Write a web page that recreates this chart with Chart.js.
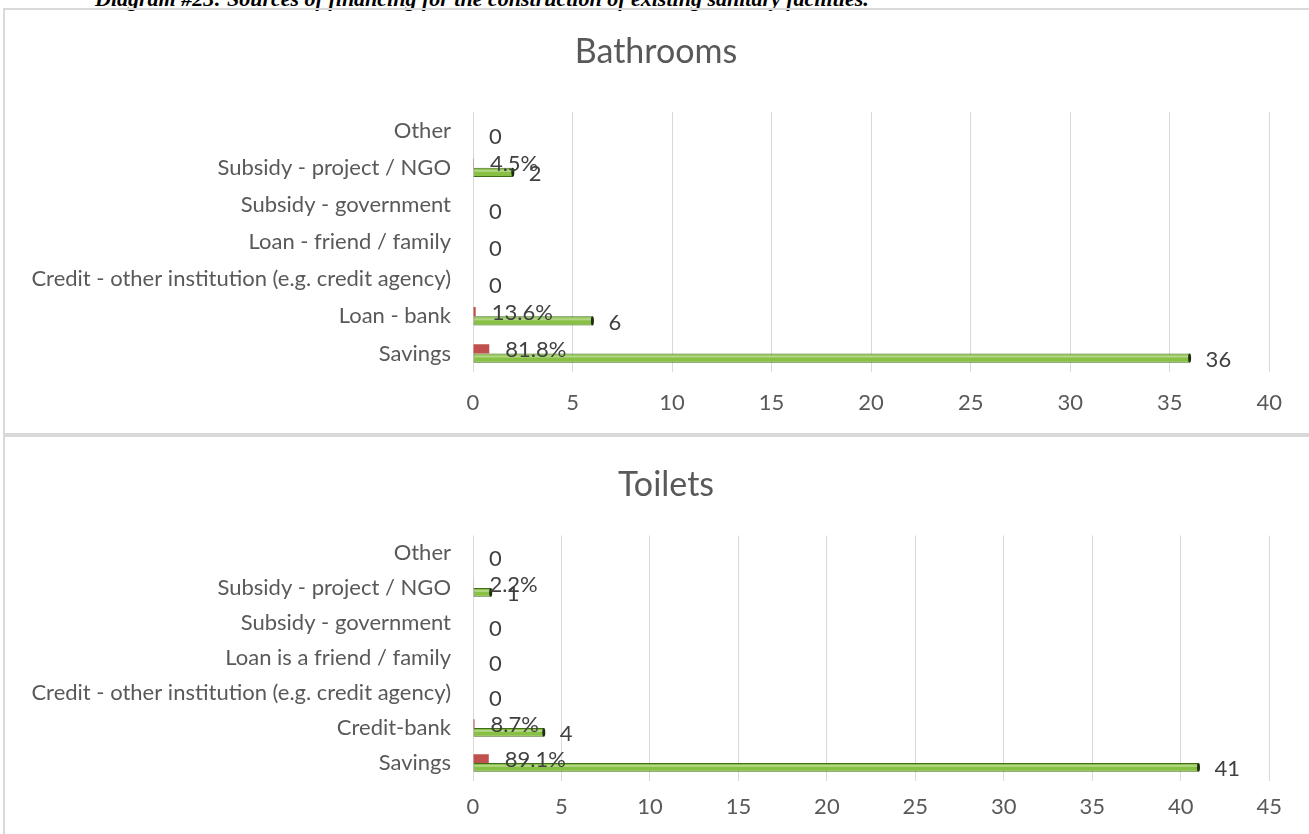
<!DOCTYPE html>
<html>
<head>
<meta charset="utf-8">
<script src="https://cdn.jsdelivr.net/npm/chart.js@4/dist/chart.umd.min.js"></script>
<style>
  html, body { margin: 0; padding: 0; background: #fff; overflow: hidden; }
  body { width: 1309px; height: 834px; position: relative; }
  .heading {
    position: absolute; left: 95px; top: -12px; white-space: nowrap;
    font: italic bold 22px "Liberation Serif", "Times New Roman", serif; line-height: 22px; color: #000;
  }
  .panel { position: absolute; left: 3px; width: 1340px; border: 2px solid #d9d9d9; box-sizing: border-box; }
  #panelBath { top: 8px; height: 427px; }
  #panelToilet { top: 435px; height: 420px; }
  canvas { position: absolute; left: 5px; }
  #bathChart { top: 10px; }
  #toiletChart { top: 437px; }
</style>
</head>
<body>
<div class="heading">Diagram #23: Sources of financing for the construction of existing sanitary facilities.</div>
<div class="panel" id="panelBath"></div>
<div class="panel" id="panelToilet"></div>
<canvas id="bathChart" width="1295" height="423"></canvas>
<canvas id="toiletChart" width="1290" height="397"></canvas>
<script>
// Bathrooms: categories listed top to bottom
const bathCategories = ['Other', 'Subsidy - project / NGO', 'Subsidy - government', 'Loan - friend / family',
  'Credit - other institution (e.g. credit agency)', 'Loan - bank', 'Savings'];
const bathCounts = [0, 2, 0, 0, 0, 6, 36];
const bathShares = [0, 0.045, 0, 0, 0, 0.136, 0.818];
const bathMax = 40;

// Toilets
const toiletCategories = ['Other', 'Subsidy - project / NGO', 'Subsidy - government', 'Loan is a friend / family',
  'Credit - other institution (e.g. credit agency)', 'Credit-bank', 'Savings'];
const toiletCounts = [0, 1, 0, 0, 0, 4, 41];
const toiletShares = [0, 0.022, 0, 0, 0, 0.087, 0.891];
const toiletMax = 45;

const tickStep = 5;
const FONT = 'Lato, "Open Sans", sans-serif';

// nudge the title sideways so it sits over the middle of the panel
const titleShift = {
  id: 'titleShift',
  afterLayout(chart, args, opts) {
    const t = chart.titleBlock;
    if (t && opts.dx) { t.left += opts.dx; t.right += opts.dx; }
  }
};

// value labels + a little shine on the green bars
const barLabels = {
  id: 'barLabels',
  afterDatasetsDraw(chart) {
    const ctx = chart.ctx;
    ctx.save();
    const green = chart.getDatasetMeta(1);
    green.data.forEach(bar => {
      const w = bar.x - bar.base;
      if (w > 0) {
        const h = bar.height;
        ctx.fillStyle = 'rgba(255,255,255,0.35)';
        ctx.fillRect(bar.base + 1, bar.y - h / 2 + h * 0.22, w - 2, h * 0.22);
        ctx.fillStyle = '#1e2e10';
        ctx.beginPath();
        ctx.ellipse(bar.x, bar.y, 1.5, h / 2, 0, 0, Math.PI * 2);
        ctx.fill();
      }
    });
    ctx.font = '22px ' + FONT;
    ctx.fillStyle = '#404040';
    ctx.textAlign = 'left';
    ctx.textBaseline = 'middle';
    const red = chart.getDatasetMeta(0);
    red.data.forEach((bar, i) => {
      const v = chart.data.datasets[0].data[i];
      if (v > 0) ctx.fillText((v * 100).toFixed(1) + '%', bar.x + 16, bar.y + 1);
    });
    green.data.forEach((bar, i) => {
      const v = chart.data.datasets[1].data[i];
      ctx.fillText(String(v), bar.x + 16, bar.y + 2);
    });
    ctx.restore();
  }
};

function makeChart(id, title, labels, shares, counts, max, pad) {
  return new Chart(document.getElementById(id), {
    type: 'bar',
    data: {
      labels: labels,
      datasets: [{
        label: 'Share',
        data: shares,
        backgroundColor: '#c0504d',
        categoryPercentage: 0.5,
        barPercentage: 1.0
      }, {
        label: 'Count',
        data: counts,
        backgroundColor: '#88c043',
        borderColor: '#416d1a',
        borderWidth: 1,
        borderSkipped: false,
        categoryPercentage: 0.5,
        barPercentage: 1.0
      }]
    },
    options: {
      indexAxis: 'y',
      responsive: false,
      animation: false,
      devicePixelRatio: 1,
      layout: { padding: { left: 0, right: 0, top: 0, bottom: pad.bottom } },
      plugins: {
        legend: { display: false },
        tooltip: { enabled: false },
        titleShift: { dx: pad.titleDx },
        title: {
          display: true,
          text: title,
          color: '#595959',
          font: { family: FONT, size: 34, weight: 'normal' },
          padding: { top: pad.titleTop, bottom: pad.titleBottom }
        }
      },
      scales: {
        x: {
          min: 0,
          max: max,
          ticks: {
            stepSize: tickStep,
            color: '#595959',
            padding: pad.xTick,
            font: { family: FONT, size: 22 }
          },
          grid: { color: '#d9d9d9', drawTicks: false },
          border: { display: false },
          afterFit(scale) { scale.height = pad.xHeight; }
        },
        y: {
          ticks: {
            color: '#595959',
            padding: 22,
            font: { family: FONT, size: 22 }
          },
          grid: { display: false, drawTicks: false },
          border: { display: false },
          afterFit(scale) { scale.width = 468; }
        }
      }
    },
    plugins: [titleShift, barLabels]
  });
}

makeChart('bathChart', 'Bathrooms', bathCategories, bathShares, bathCounts, bathMax,
  { bottom: 17, titleTop: 21.6, titleBottom: 39.6, titleDx: 3.5, xTick: 18, xHeight: 44 });
makeChart('toiletChart', 'Toilets', toiletCategories, toiletShares, toiletCounts, toiletMax,
  { bottom: 10, titleTop: 27.6, titleBottom: 30.1, titleDx: 16, xTick: 13, xHeight: 43.5 });
</script>
</body>
</html>
